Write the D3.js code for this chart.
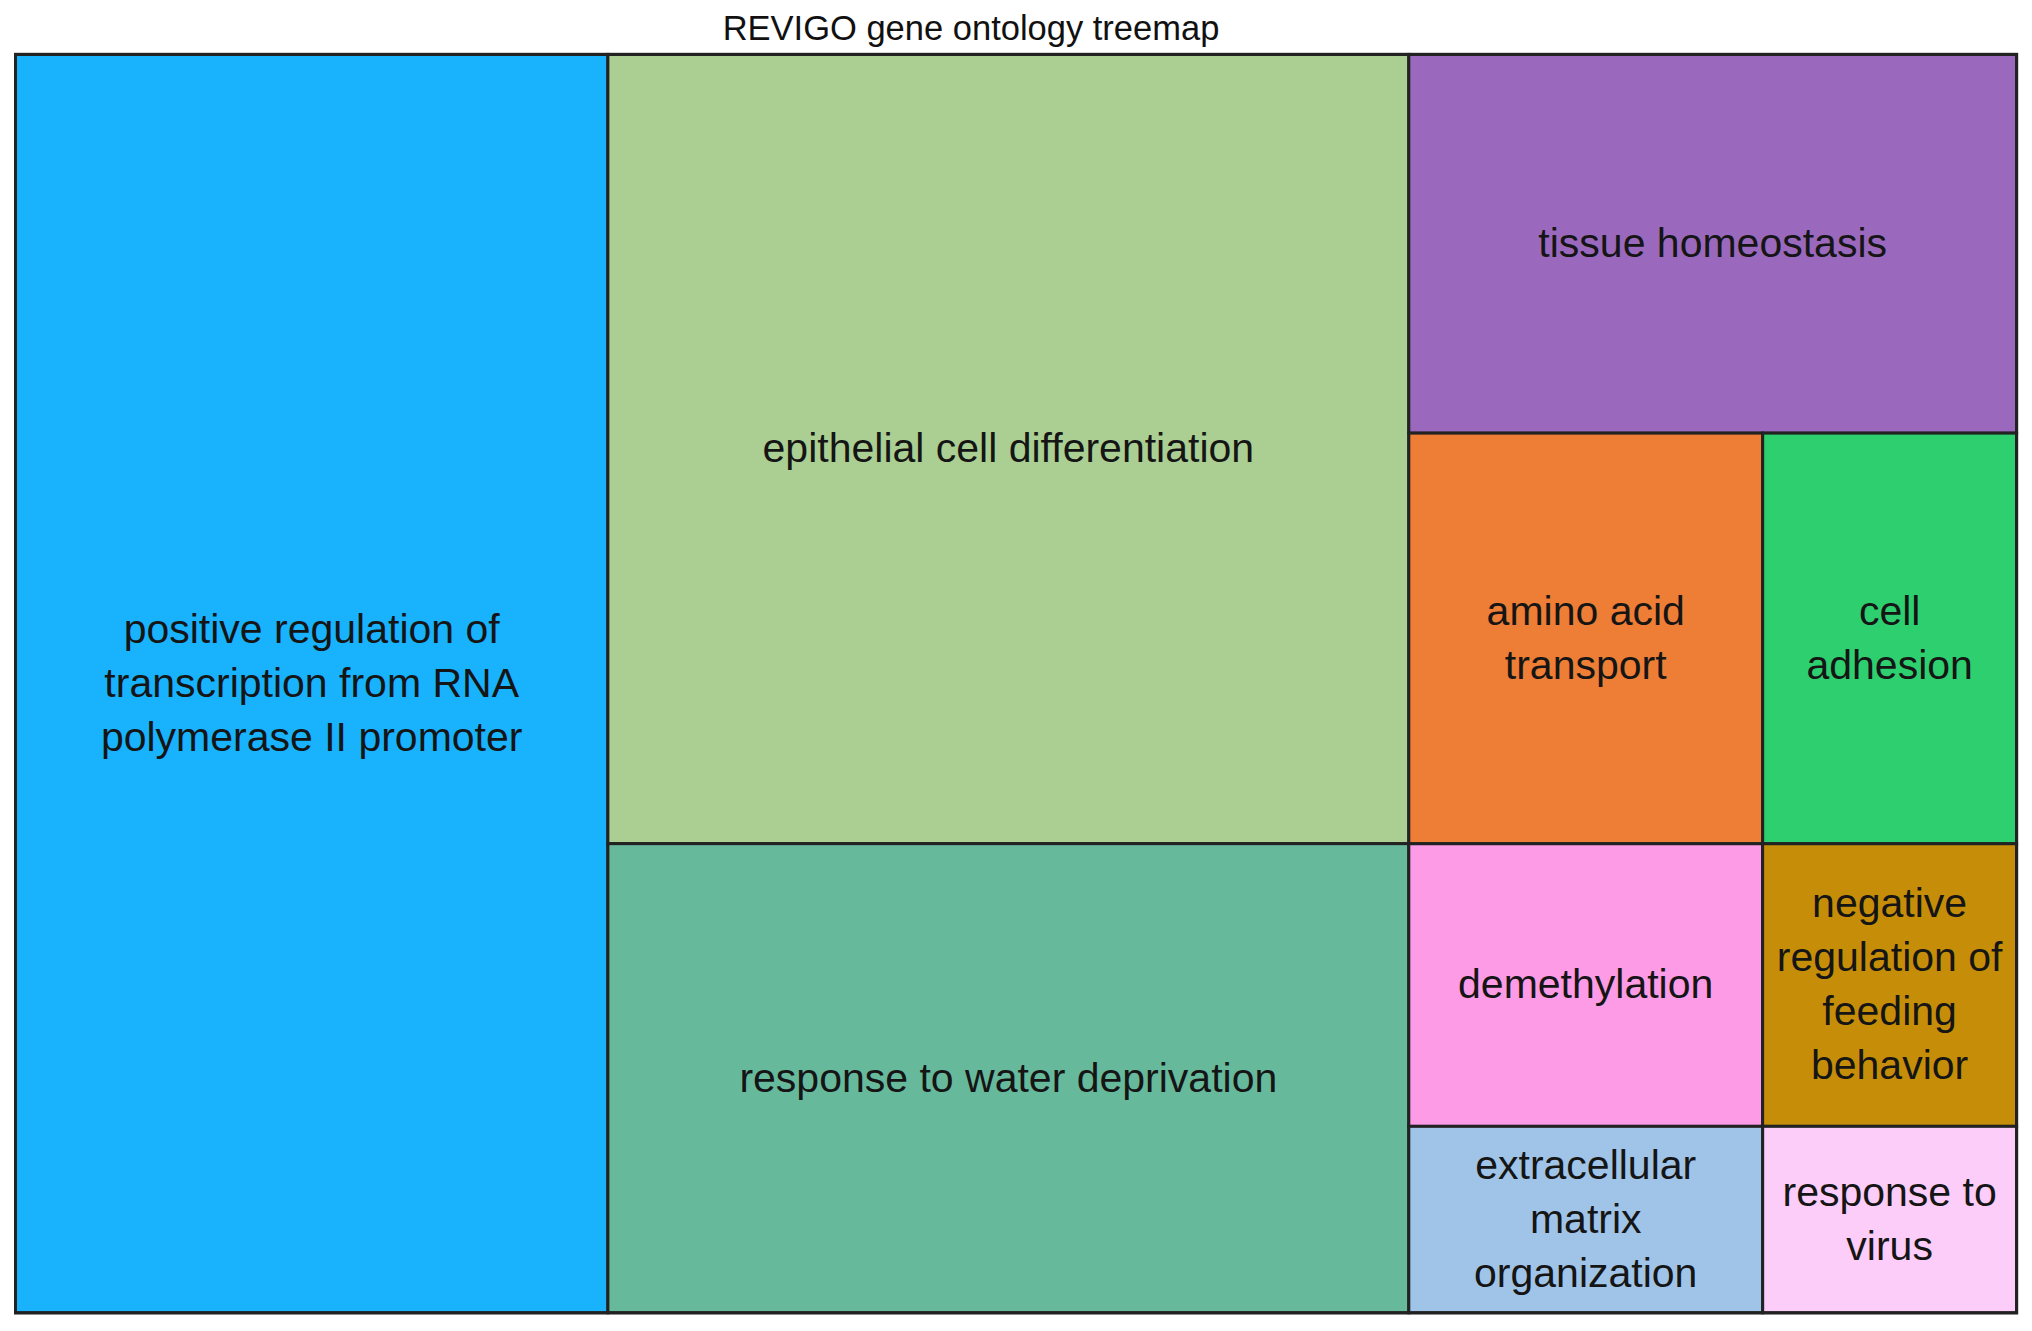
<!DOCTYPE html>
<html>
<head>
<meta charset="utf-8">
<script src="https://cdn.jsdelivr.net/npm/d3@7"></script>
<style>
  body { margin: 0; background: #fff; }
  svg { display: block; }
</style>
</head>
<body>
<svg id="chart" width="2032" height="1331"></svg>
<script>
// GO terms (label lines as drawn in the boxes)
var terms = [
  "positive regulation of\ntranscription from RNA\npolymerase II promoter",
  "epithelial cell differentiation",
  "response to water deprivation",
  "tissue homeostasis",
  "amino acid\ntransport",
  "cell\nadhesion",
  "demethylation",
  "negative\nregulation of\nfeeding\nbehavior",
  "extracellular\nmatrix\norganization",
  "response to\nvirus"
];
// relative box size (% of total area)
var sizes = [29.60, 25.10, 14.92, 9.14, 5.77, 4.14, 3.97, 2.85, 2.62, 1.88];
var colors = ["#18b2fd", "#abcf92", "#67b99c", "#9a69be", "#ee7d35",
              "#2ecf6f", "#fd9be6", "#c68e08", "#9fc4e8", "#fdcdf9"];
// how terms are nested in the layout (indices into terms)
var groups = [
  [0],
  [[1], [2]],
  [[3], [4, 5], [6, 7], [8, 9]]
];

var plotL = 15.5, plotT = 54.4, plotR = 2016.6, plotB = 1312.8;
var fontSize = 41, lineH = 54;

function build(g) {
  if (typeof g === "number") return {name: terms[g], value: sizes[g], color: colors[g]};
  if (g.length === 1 && typeof g[0] === "number") return build(g[0]);
  return {children: g.map(build)};
}
var rootData = {children: groups.map(build)};

var root = d3.hierarchy(rootData).sum(function(d) { return d.value || 0; });

d3.treemap()
  .tile(d3.treemapSliceDice)
  .size([plotR - plotL, plotB - plotT])
  .round(false)(root);

var svg = d3.select("#chart");

svg.append("text")
  .attr("x", 971)
  .attr("y", 40)
  .attr("text-anchor", "middle")
  .style("font-family", "'Liberation Sans', Arial, sans-serif")
  .style("font-size", "34.5px")
  .style("fill", "#111")
  .text("REVIGO gene ontology treemap");

var g = svg.append("g").attr("transform", "translate(" + plotL + "," + plotT + ")");

var cells = g.selectAll("g.cell")
  .data(root.leaves())
  .enter().append("g")
  .attr("class", "cell");

cells.append("rect")
  .attr("x", function(d) { return d.x0; })
  .attr("y", function(d) { return d.y0; })
  .attr("width", function(d) { return d.x1 - d.x0; })
  .attr("height", function(d) { return d.y1 - d.y0; })
  .style("fill", function(d) { return d.data.color; })
  .style("stroke", "#222")
  .style("stroke-width", 3);

cells.each(function(d) {
  var lines = d.data.name.split("\n");
  var cx = (d.x0 + d.x1) / 2, cy = (d.y0 + d.y1) / 2;
  var t = d3.select(this).append("text")
    .attr("text-anchor", "middle")
    .style("font-family", "'Liberation Sans', Arial, sans-serif")
    .style("font-size", fontSize + "px")
    .style("fill", "#151515");
  lines.forEach(function(line, i) {
    t.append("tspan")
      .attr("x", cx)
      .attr("y", cy - 1 + (i - (lines.length - 1) / 2) * lineH)
      .attr("dy", "0.35em")
      .text(line);
  });
});

// outer frame
g.append("rect")
  .attr("width", plotR - plotL)
  .attr("height", plotB - plotT)
  .style("fill", "none")
  .style("stroke", "#222")
  .style("stroke-width", 3);
</script>
</body>
</html>
